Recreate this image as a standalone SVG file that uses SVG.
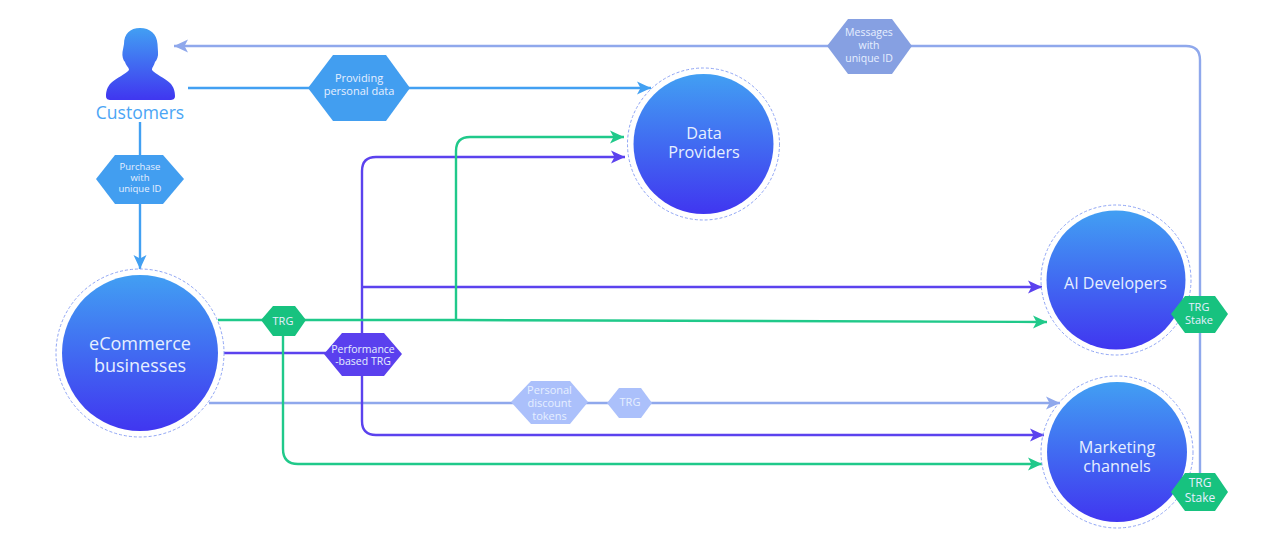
<svg xmlns="http://www.w3.org/2000/svg" width="1280" height="553" viewBox="0 0 1280 553">
<style>
text{font-family:"Open Sans","Noto Sans",sans-serif;text-anchor:middle}
.big{font-size:16.200px;fill:#e6efff}
.sm{font-size:11px;fill:#e6efff}
.md{font-size:12px;fill:#e6efff}
.ring{fill:none;stroke:#8fa5f5;stroke-width:1;stroke-dasharray:3 2}
.ball{fill:url(#g)}
.c{fill:none;stroke-width:2.4}
.blue{stroke:#42a0f2}.green{stroke:#20c98a}.purple{stroke:#5b42ee}.lav{stroke:#8fa8ec}
.hb{fill:#429ef0}.hg{fill:#17c27f}.hp{fill:#5a40ee}.hl{fill:#abc0fb}.hm{fill:#86a0e2}
</style>
<defs>
<linearGradient id="g" x1="0" y1="0" x2="0" y2="1"><stop offset="0" stop-color="#429ff3"/><stop offset="1" stop-color="#4036f0"/></linearGradient>
<marker id="ab" markerUnits="userSpaceOnUse" markerWidth="15" markerHeight="14" refX="14" refY="7" orient="auto"><path d="M0,0.500 L14,7 L0,13.500 L3.500,7z" fill="#42a0f2"/></marker>
<marker id="ag" markerUnits="userSpaceOnUse" markerWidth="15" markerHeight="14" refX="14" refY="7" orient="auto"><path d="M0,0.500 L14,7 L0,13.500 L3.500,7z" fill="#20c98a"/></marker>
<marker id="ap" markerUnits="userSpaceOnUse" markerWidth="15" markerHeight="14" refX="14" refY="7" orient="auto"><path d="M0,0.500 L14,7 L0,13.500 L3.500,7z" fill="#5b42ee"/></marker>
<marker id="al" markerUnits="userSpaceOnUse" markerWidth="15" markerHeight="14" refX="14" refY="7" orient="auto"><path d="M0,0.500 L14,7 L0,13.500 L3.500,7z" fill="#8fa8ec"/></marker>
</defs>
<g id="connectors">
<path class="c lav" marker-end="url(#al)" d="M1200,473 V60 Q1200,46 1186,46 H174"/>
<path class="c blue" marker-end="url(#ab)" d="M188,88 H651"/>
<path class="c blue" marker-end="url(#ab)" d="M140,122 V269"/>
<path class="c lav" marker-end="url(#al)" d="M209,403 H1060"/>
<path class="c purple" marker-end="url(#ap)" d="M224,353 H362 V171 Q362,157 376,157 H625"/>
<path class="c purple" marker-end="url(#ap)" d="M362,287 H1042"/>
<path class="c purple" marker-end="url(#ap)" d="M362,353 V421 Q362,435 376,435 H1044"/>
<path class="c green" marker-end="url(#ag)" d="M218,320 H456 L1047,322"/>
<path class="c green" marker-end="url(#ag)" d="M456,320 V151 Q456,137 470,137 H624"/>
<path class="c green" marker-end="url(#ag)" d="M283,320 V449 Q283,464 298,464 H1042"/>
</g>
<g id="customers">
<path class="ball" d="M140,28 C150,28 157,34 157.500,44 L158,52 C158.500,56 157,60 155,62 C154,66 152,67 152,70 C155,74 165,78 170,83 C174,87 175,92 175,96 C175,99 173,100 170,100 L111,100 C108,100 106,99 106,96 C106,92 107,87 111,83 C116,78 126,74 129,70 C129,67 126,66 125,62 C123,60 122,56 122.500,52 L124,44 C124,34 130,28 140,28z"/>
<text x="140" y="119" font-size="17.500" style="fill:#4aa5f5">Customers</text>
</g>
<g id="data-providers"><circle class="ring" cx="703.500" cy="144" r="76"/><circle class="ball" cx="703.500" cy="144" r="70"/><text class="big" x="704" y="138.500"><tspan x="704">Data</tspan><tspan x="704" dy="19.600">Providers</tspan></text></g>
<g id="ecommerce"><circle class="ring" cx="140" cy="353" r="84"/><circle class="ball" cx="140" cy="353" r="78"/><text class="big" x="140" y="350" style="font-size:18px"><tspan x="140">eCommerce</tspan><tspan x="140" dy="21.500">businesses</tspan></text></g>
<g id="ai-developers"><circle class="ring" cx="1116" cy="280" r="75"/><circle class="ball" cx="1116" cy="280" r="69.500"/><text class="big" x="1115.500" y="288.500" style="font-size:16px">AI Developers</text></g>
<g id="marketing"><circle class="ring" cx="1117" cy="452" r="76"/><circle class="ball" cx="1117" cy="452" r="70"/><text class="big" x="1117" y="452.500"><tspan x="1117">Marketing</tspan><tspan x="1117" dy="19.600">channels</tspan></text></g>
<g id="providing"><polygon class="hb" points="308,88 333,55 386,55 410,88 386,121 333,121"/><text class="sm" x="359" y="82"><tspan x="359">Providing</tspan><tspan x="359" dy="13">personal data</tspan></text></g>
<g id="purchase"><polygon class="hb" points="96,179 115,155 163,155 184,179 163,204 115,204"/><text class="sm" x="140" y="170" style="font-size:9.500px"><tspan x="140">Purchase</tspan><tspan x="140" dy="11">with</tspan><tspan x="140" dy="11">unique ID</tspan></text></g>
<g id="messages"><polygon class="hm" points="827,46 848,19 892,19 912,46 892,74 848,74"/><text class="sm" x="869" y="36" style="font-size:10.500px"><tspan x="869">Messages</tspan><tspan x="869" dy="13">with</tspan><tspan x="869" dy="13">unique ID</tspan></text></g>
<g id="trg1"><polygon class="hg" points="261,320 273,306 295,306 306,320 295,336 273,336"/><text class="sm" x="283" y="325">TRG</text></g>
<g id="performance"><polygon class="hp" points="324,354 342,333 384,333 402,354 384,376 342,376"/><text class="sm" x="363" y="352.500" style="font-size:10.500px"><tspan x="363">Performance</tspan><tspan x="363" dy="12">-based TRG</tspan></text></g>
<g id="personal"><polygon class="hl" points="511,402 531,381 570,381 588,402 570,424 531,424"/><text class="sm" x="549.500" y="394"><tspan x="549.500">Personal</tspan><tspan x="549.500" dy="13">discount</tspan><tspan x="549.500" dy="13">tokens</tspan></text></g>
<g id="trg2"><polygon class="hl" points="607,403 619,388 641,388 652,403 641,418 619,418"/><text class="sm" x="630" y="406">TRG</text></g>
<g id="stake-ai"><polygon class="hg" points="1171,314 1185,296 1215,296 1228,314 1215,333 1185,333"/><text class="sm" x="1199" y="311"><tspan x="1199">TRG</tspan><tspan x="1199" dy="13">Stake</tspan></text></g>
<g id="stake-marketing"><polygon class="hg" points="1171,492 1185,473 1215,473 1228,492 1215,511 1185,511"/><text class="md" x="1200" y="487"><tspan x="1200">TRG</tspan><tspan x="1200" dy="15">Stake</tspan></text></g>
</svg>
